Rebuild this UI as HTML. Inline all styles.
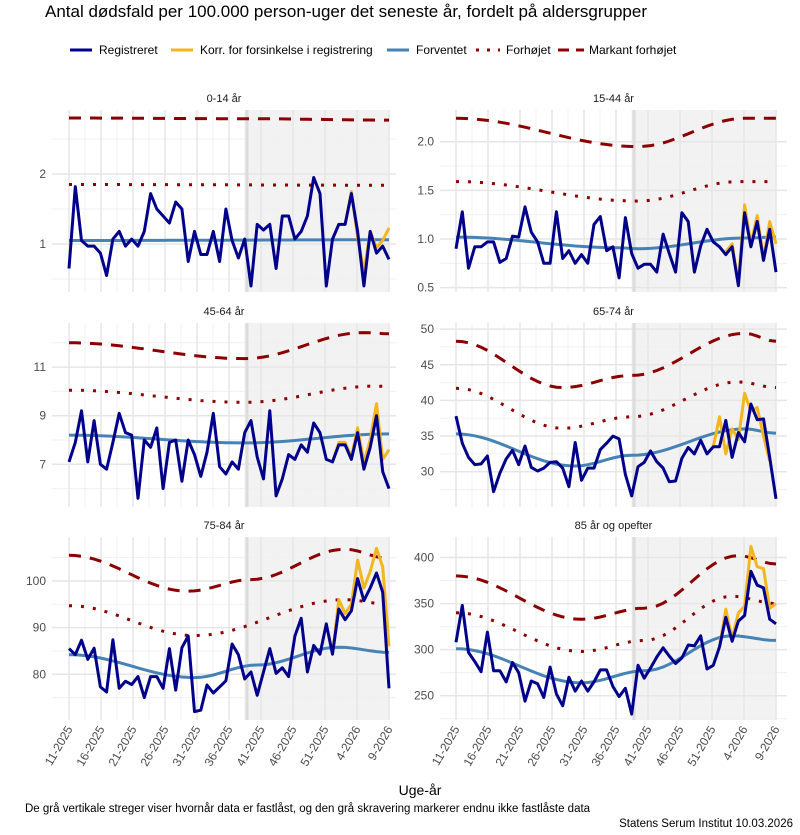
<!DOCTYPE html>
<html><head><meta charset="utf-8"><style>
body{margin:0;background:#fff;width:800px;height:830px;overflow:hidden}
svg{font-family:"Liberation Sans",sans-serif}
</style></head><body>
<svg id="s" width="800" height="830" xmlns="http://www.w3.org/2000/svg">
<text x="45" y="17" font-size="17" fill="#000">Antal dødsfald per 100.000 person-uger det seneste år, fordelt på aldersgrupper</text>
<g font-size="12" fill="#000">
<line x1="70" y1="50" x2="92" y2="50" stroke="#00008B" stroke-width="3"/><text x="99" y="54">Registreret</text>
<line x1="171" y1="50" x2="193" y2="50" stroke="#F2B61E" stroke-width="3"/><text x="200" y="54">Korr. for forsinkelse i registrering</text>
<line x1="387" y1="50" x2="409" y2="50" stroke="#4682B4" stroke-width="3"/><text x="416" y="54">Forventet</text>
<line x1="476" y1="50" x2="500" y2="50" stroke="#8B0000" stroke-width="3" stroke-dasharray="3,8"/><text x="506" y="54">Forhøjet</text>
<line x1="558" y1="50" x2="584" y2="50" stroke="#8B0000" stroke-width="3" stroke-dasharray="11,7"/><text x="589" y="54">Markant forhøjet</text>
</g>
<text x="420" y="795" font-size="14" text-anchor="middle" fill="#000">Uge-år</text>
<text x="25" y="812" font-size="11.5" fill="#000">De grå vertikale streger viser hvornår data er fastlåst, og den grå skravering markerer endnu ikke fastlåste data</text>
<text x="793" y="827" font-size="11.5" text-anchor="end" fill="#000">Statens Serum Institut  10.03.2026</text>
</svg>
<script>
const S=document.getElementById('s');const NS='http://www.w3.org/2000/svg';
function el(t,a,txt){const e=document.createElementNS(NS,t);for(const k in a)e.setAttribute(k,a[k]);if(txt!==undefined)e.textContent=txt;S.appendChild(e);return e;}
function curve(keys,n){const o=[];for(let i=0;i<n;i++){let j=0;while(j<keys.length-2&&i>keys[j+1][0])j++;const[a,va]=keys[j],[b,vb]=keys[j+1];let t=(i-a)/(b-a);t=Math.max(0,Math.min(1,t));const c=(1-Math.cos(Math.PI*t))/2;o.push(va+(vb-va)*c);}return o;}
const tickLabs=['11-2025','16-2025','21-2025','26-2025','31-2025','36-2025','41-2025','46-2025','51-2025','4-2026','9-2026'];
const P=[
{t:'0-14 år',L:52,R:396,T:110,B:292,x0:69,x1:389,sh:247,y:v=>244-(v-1)*70,maj:[1,2],lab:['1','2'],min:[0.5,1.5,2.5],
reg:[0.65,1.82,1.05,0.97,0.97,0.87,0.55,1.07,1.18,0.97,1.07,0.97,1.18,1.72,1.5,1.4,1.3,1.6,1.5,0.75,1.18,0.85,0.85,1.18,0.75,1.5,1.05,0.8,1.07,0.4,1.28,1.2,1.28,0.65,1.4,1.4,1.07,1.18,1.4,1.95,1.72,0.4,1.07,1.28,1.28,1.72,1.18,0.4,1.18,0.87,0.97,0.78],
ys:44,yel:[1.28,1.75,1.1,0.6,1.18,0.95,1.05,1.23],
exp:[[0,1.05],[51,1.06]],dot:[[0,1.85],[51,1.84]],dash:[[0,2.8],[28,2.79],[51,2.77]]},
{t:'15-44 år',L:440,R:787,T:110,B:292,x0:456,x1:776,sh:634,y:v=>239-(v-1)*97.3,maj:[0.5,1,1.5,2],lab:['0.5','1.0','1.5','2.0'],min:[0.75,1.25,1.75],
reg:[0.9,1.28,0.7,0.92,0.92,0.97,0.97,0.76,0.8,1.03,1.02,1.33,1.07,0.97,0.75,0.75,1.28,0.8,0.88,0.75,0.84,0.75,1.15,1.23,0.88,0.92,0.6,1.22,0.85,0.7,0.74,0.74,0.66,1.05,0.85,0.66,1.27,1.18,0.66,0.93,1.1,0.97,0.92,0.84,0.92,0.52,1.27,0.92,1.18,0.78,1.1,0.66],
ys:43,yel:[0.87,0.95,0.55,1.35,0.95,1.24,0.8,1.18,0.95],
exp:[[0,1.02],[26,0.91],[29,0.9],[46,1.01],[51,1.02]],dot:[[0,1.59],[29,1.39],[45,1.59],[51,1.59]],dash:[[0,2.24],[29,1.95],[46,2.24],[51,2.24]]},
{t:'45-64 år',L:52,R:396,T:323,B:507,x0:69,x1:389,sh:247,y:v=>464.3-(v-7)*24.3,maj:[7,9,11],lab:['7','9','11'],min:[6,8,10,12],
reg:[7.1,7.9,9.2,7.1,8.8,7.0,6.8,7.9,9.1,8.3,8.2,5.6,8.0,7.7,8.5,6.0,7.9,8.0,6.3,8.0,7.4,6.5,7.5,9.1,6.9,6.6,7.1,6.8,8.3,8.8,7.3,6.4,9.2,5.7,6.4,7.4,7.2,7.8,7.5,8.7,8.3,7.2,7.1,7.8,7.8,7.2,8.3,6.8,7.7,9.0,6.7,6.0],
ys:42,yel:[7.1,7.9,7.9,7.3,8.5,7.1,8.0,9.5,7.2,7.6],
exp:[[0,8.2],[28,7.88],[51,8.25]],dot:[[0,10.05],[28,9.55],[49,10.22],[51,10.2]],dash:[[0,12.0],[28,11.35],[47,12.42],[51,12.37]]},
{t:'65-74 år',L:440,R:787,T:323,B:507,x0:456,x1:776,sh:634,y:v=>471.7-(v-30)*7.13,maj:[30,35,40,45,50],lab:['30','35','40','45','50'],min:[27.5,32.5,37.5,42.5,47.5],
reg:[37.8,34,32,31,31.1,32.2,27.2,29.8,31.8,33,31,33.6,30.6,30.1,30.5,31.3,31.4,30.5,27.9,34.1,28.8,30.5,30.5,33.1,34,35,34.6,29.6,26.6,30.7,31.3,32.9,31.4,30.5,28.6,28.7,31.9,33.4,32.5,34.4,32.5,33.5,33.5,37.2,32,35.5,34.2,39.5,37.3,37.4,32,26.2],
ys:41,yel:[33.5,37.7,32.5,36,34.5,41,38.5,39,35,31.5],
exp:[[0,35.3],[19,30.8],[28,32.3],[46,36],[51,35.4]],dot:[[0,41.7],[17,36.1],[28,37.7],[45,42.6],[51,41.8]],dash:[[0,48.3],[17,41.8],[28,43.5],[46,49.4],[51,48.3]]},
{t:'75-84 år',L:52,R:396,T:537,B:720,x0:69,x1:389,sh:247,y:v=>674.3-(v-80)*4.667,maj:[80,90,100],lab:['80','90','100'],min:[75,85,95,105],
reg:[85.5,84.2,87.3,83.2,85.6,77.3,76.2,87.4,77,78.5,77.8,79.5,75,79.5,79.5,77,85.5,76.6,85.7,88.2,72,72.3,77.7,76,77.3,78.6,86.5,84.2,79,80.5,75.5,80.5,85.5,80.2,81.4,79.5,88.2,92,80.5,86.2,84.3,90.8,84.3,94,91.7,93.6,100.5,95.8,98.5,101.7,97.6,77],
ys:42,yel:[84.3,96,93,95,104.5,98.5,102,107,103,86],
exp:[[0,84.2],[20,79.3],[30,82],[43,85.8],[51,84.7]],dot:[[0,94.7],[20,88.3],[44,96],[51,95]],dash:[[0,105.5],[19,97.8],[29,100.3],[44,106.8],[51,104.8]]},
{t:'85 år og opefter',L:440,R:787,T:537,B:720,x0:456,x1:776,sh:634,y:v=>695.7-(v-250)*0.9213,maj:[250,300,350,400],lab:['250','300','350','400'],min:[225,275,325,375],
reg:[308,348,297,287,276,319,277,277,265,286,275,244,266,263,248,281,252,239,270,255,266,255,265,278,278,260,249,258,230,283,269,280,292,302,293,285,291,305,304,315,279,283,303,335,309,331,337,385,370,367,333,328],
ys:42,yel:[303,344,312,340,347,412,390,388,345,350],
exp:[[0,301],[20,264],[30,277],[44,315],[51,310]],dot:[[0,340],[20,298],[30,310],[44,358],[51,350]],dash:[[0,380],[20,333],[30,345],[45,402],[51,393]]}
];
for(const p of P){
 const n=p.reg.length,dx=(p.x1-p.x0)/(n-1);const X=i=>p.x0+dx*i;
 const tx=k=>p.x0+(p.x1-p.x0)*(k*5)/50;
 el('text',{x:(p.L+p.R)/2,y:p.T-8,'font-size':11,'text-anchor':'middle',fill:'#1a1a1a'},p.t);
 el('rect',{x:p.sh,y:p.T,width:p.x1-p.sh,height:p.B-p.T,fill:'#f2f2f2'});
 for(const v of p.min){const y=p.y(v);if(y>p.T&&y<p.B)el('line',{x1:p.L,x2:p.R,y1:y,y2:y,stroke:'#f0f0f0','stroke-width':1});}
 for(let k=0;k<11;k++){const m=tx(k)+ (p.x1-p.x0)*2.5/50;if(m<p.R)el('line',{x1:m,x2:m,y1:p.T,y2:p.B,stroke:'#f0f0f0','stroke-width':1});}
 p.maj.forEach((v,i)=>{const y=p.y(v);el('line',{x1:p.L,x2:p.R,y1:y,y2:y,stroke:'#e6e6e6','stroke-width':1.5});
  el('text',{x:p.L-6,y:y+4,'font-size':12,'text-anchor':'end',fill:'#4d4d4d'},p.lab[i]);});
 for(let k=0;k<11;k++){const x=tx(k);el('line',{x1:x,x2:x,y1:p.T,y2:p.B,stroke:'#e6e6e6','stroke-width':1.5});}
 el('line',{x1:p.sh,x2:p.sh,y1:p.T,y2:p.B,stroke:'#dcdcdc','stroke-width':3});
 const pl=(arr,off,a)=>{el('polyline',Object.assign({points:arr.map((v,i)=>X(i+off).toFixed(1)+','+p.y(v).toFixed(1)).join(' '),fill:'none'},a));};
 pl(curve(p.dash,n),0,{stroke:'#8B0000','stroke-width':3,'stroke-dasharray':'12,9'});
 pl(curve(p.dot,n),0,{stroke:'#8B0000','stroke-width':3,'stroke-dasharray':'3,9'});
 pl(curve(p.exp,n),0,{stroke:'#4682B4','stroke-width':3});
 const ys=p.ys, yel=p.yel.slice(0,n-ys);
 pl(yel,ys,{stroke:'#F2B61E','stroke-width':3,'stroke-linejoin':'round'});
 pl(p.reg,0,{stroke:'#00008B','stroke-width':3,'stroke-linejoin':'round'});
 if(p.B>700){for(let k=0;k<11;k++){const x=tx(k);
  el('text',{x:0,y:0,'font-size':12,'text-anchor':'end',fill:'#4d4d4d',transform:`translate(${x+4},${p.B+9}) rotate(-60)`},tickLabs[k]);}}
}
</script>
</body></html>
